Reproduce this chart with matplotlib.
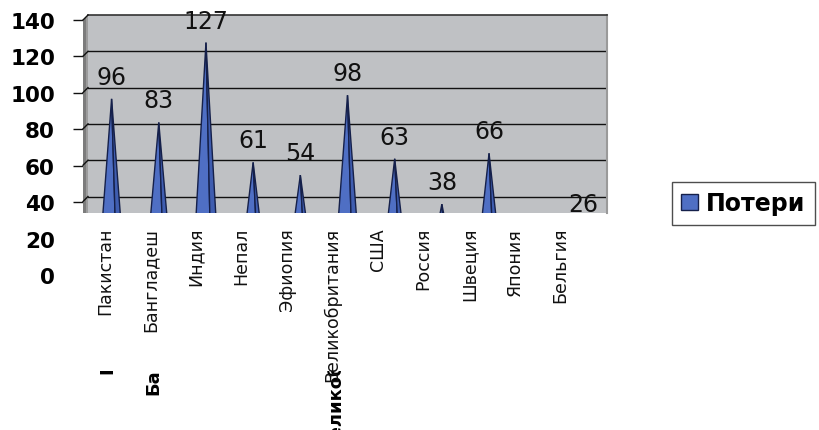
import numpy as np
import matplotlib
matplotlib.use("Agg")
import matplotlib.pyplot as plt
from matplotlib.patches import Polygon, Patch, Rectangle
from matplotlib.lines import Line2D
from matplotlib.transforms import blended_transform_factory

# ---- data ----
countries = ["Пакистан", "Бангладеш", "Индия", "Непал", "Эфиопия",
             "Великобритания", "США", "Россия", "Швеция", "Япония", "Бельгия"]
losses = [96, 83, 127, 61, 54, 98, 63, 38, 66, np.nan, 26]
y_ticks = [0, 20, 40, 60, 80, 100, 120, 140]
series_name = "Потери"

# ---- style ----
W, H = 819, 431
FACE_LEFT = "#4F6FC4"
FACE_RIGHT = "#3F5DB0"
EDGE = "#15204A"
WALL = "#BFC1C4"
FONT = "DejaVu Sans"

fig = plt.figure(figsize=(W / 100, H / 100), dpi=100)


def box(x0, y0, x1, y1):
    """Pixel box (origin top-left) -> figure rect."""
    return [x0 / W, 1 - y1 / H, (x1 - x0) / W, (y1 - y0) / H]


PX_PER_UNIT = 1.815
YMAX = 140
BOTTOM_PX = 214
ymin_wall = YMAX - (BOTTOM_PX - 16) / PX_PER_UNIT
ymin_front = YMAX - (BOTTOM_PX - 20) / PX_PER_UNIT

# back wall with gridlines
ax = fig.add_axes(box(88, 16, 607, BOTTOM_PX))
ax.set_facecolor(WALL)
ax.set_xlim(-0.5, len(countries) - 0.5)
ax.set_ylim(ymin_wall, YMAX)
ax.set_xticks([])
ax.set_yticks([])
for s in ("left", "bottom"):
    ax.spines[s].set_visible(False)
ax.spines["top"].set_color("#333333")
ax.spines["top"].set_linewidth(1.2)
ax.spines["right"].set_color("#9A9A9A")
ax.spines["right"].set_linewidth(1.5)
for v in y_ticks:
    if ymin_wall < v < YMAX:
        ax.axhline(v, color="#111111", lw=1.0, zorder=1)

# side wall on the left
bt = blended_transform_factory(fig.transFigure, ax.transData)
depth = 5 / PX_PER_UNIT
wall = Polygon([(83 / W, YMAX - depth), (88 / W, YMAX), (88 / W, ymin_wall),
                (83 / W, ymin_wall)], closed=True, transform=bt,
               facecolor="#7C7C7C", edgecolor="none", clip_on=False)
fig.add_artist(wall)
wall_hi = Polygon([(86 / W, YMAX - depth * 0.4), (88 / W, YMAX), (88 / W, ymin_wall),
                   (86 / W, ymin_wall)], closed=True, transform=bt,
                  facecolor="#9C9C9C", edgecolor="none", clip_on=False)
fig.add_artist(wall_hi)
for v in y_ticks:
    if ymin_wall < v <= YMAX:
        fig.add_artist(Line2D([83 / W, 88 / W], [v - depth, v], transform=bt,
                              color="#111111", lw=1.0))

# cones stand in the front plane, a few pixels lower than the wall
axf = fig.add_axes(box(88, 20, 607, BOTTOM_PX))
axf.patch.set_visible(False)
axf.set_xlim(-0.5, len(countries) - 0.5)
axf.set_ylim(ymin_front, YMAX)
axf.axis("off")

half_w = 0.28
ridge = 0.11
for i, v in enumerate(losses):
    if np.isnan(v):
        continue
    left = Polygon([(i, v), (i - half_w, 0), (i + ridge, 0)], closed=True,
                   facecolor=FACE_LEFT, edgecolor=EDGE, lw=1.0, zorder=3)
    right = Polygon([(i, v), (i + ridge, 0), (i + half_w, 0)], closed=True,
                    facecolor=FACE_RIGHT, edgecolor=EDGE, lw=1.0, zorder=3)
    axf.add_patch(left)
    axf.add_patch(right)
    axf.annotate(f"{v:.0f}", xy=(i, v), xytext=(0, 22), textcoords="offset pixels",
                 ha="center", va="center", fontsize=17, family=FONT,
                 color="#111111", annotation_clip=False, zorder=5)

# value axis labels
ax_y = fig.add_axes(box(83, 21, 84, 276))
ax_y.set_ylim(0, YMAX)
ax_y.set_xlim(0, 1)
ax_y.patch.set_visible(False)
for s in ax_y.spines.values():
    s.set_visible(False)
ax_y.set_xticks([])
ax_y.set_yticks(y_ticks)
ax_y.set_yticklabels([str(t) for t in y_ticks], fontsize=15.5,
                     fontweight="bold", family=FONT)
ax_y.tick_params(axis="y", length=7.2, width=1.0, color="#111111", pad=13)
for t, tick in zip(y_ticks, ax_y.yaxis.get_major_ticks()):
    if t < 40:
        tick.tick1line.set_visible(False)

# category labels (floor, slightly compressed by perspective)
ax_c = fig.add_axes(box(82, 214, 583, 431))
ax_c.set_xlim(-0.5, len(countries) - 0.5)
ax_c.set_ylim(431, 214)
ax_c.axis("off")
for i, name in enumerate(countries):
    ax_c.text(i + 0.06, 277, name, rotation=90, ha="center", va="top",
              fontsize=13, fontweight="bold", family=FONT, color="#000000",
              zorder=1, clip_on=False)
    ax_c.text(i, 228, name, rotation=90, ha="center", va="top",
              fontsize=12.5, family=FONT, color="#111111", zorder=3, clip_on=False)
ax_c.add_patch(Rectangle((-0.5, 214), len(countries), 372 - 214,
                         facecolor="white", edgecolor="none", zorder=2,
                         clip_on=False))

# legend
fig.legend(handles=[Patch(facecolor=FACE_LEFT, edgecolor=EDGE, label=series_name)],
           loc="upper left", bbox_to_anchor=(672 / W, 1 - 183 / H),
           frameon=True, fancybox=False, edgecolor="#222222",
           prop={"family": FONT, "weight": "bold", "size": 17},
           handlelength=0.7, handleheight=0.7, handletextpad=0.35,
           borderpad=0.4, borderaxespad=0)

fig.savefig("out.png", dpi=100, facecolor="white")
